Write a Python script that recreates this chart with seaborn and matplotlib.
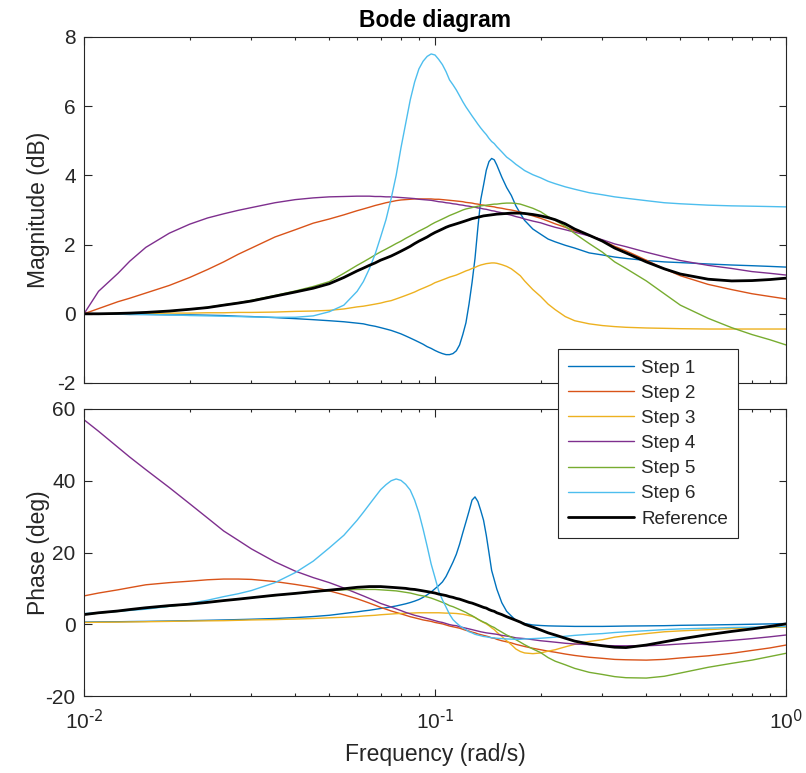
import numpy as np
import pandas as pd
import matplotlib
matplotlib.use("Agg")
import matplotlib.pyplot as plt
from matplotlib.ticker import LogLocator, NullFormatter, MultipleLocator, FuncFormatter
import seaborn as sns

# Frequency grid (rad/s)
freq = [0.01, 0.011, 0.0125, 0.0135, 0.015, 0.0175, 0.02, 0.0225, 0.025, 0.0275,
        0.03, 0.035, 0.04, 0.045, 0.05, 0.055, 0.06, 0.0625, 0.065, 0.0675,
        0.07, 0.0725, 0.075, 0.0775, 0.08, 0.0825, 0.085, 0.0875, 0.09, 0.0925,
        0.095, 0.0975, 0.1, 0.1025, 0.105, 0.1075, 0.11, 0.1125, 0.115, 0.1175,
        0.12, 0.1225, 0.125, 0.1275, 0.13, 0.1325, 0.135, 0.1375, 0.14, 0.1425,
        0.145, 0.1475, 0.15, 0.155, 0.16, 0.165, 0.17, 0.175, 0.18, 0.19,
        0.2, 0.21, 0.22, 0.235, 0.25, 0.275, 0.3, 0.325, 0.35, 0.4,
        0.45, 0.5, 0.6, 0.7, 0.8, 0.9, 1.0]

# Magnitude (dB)
mag_step1 = [0, -0.01, -0.01, -0.02, -0.02, -0.03, -0.03, -0.04, -0.05, -0.07,
             -0.08, -0.11, -0.14, -0.17, -0.2, -0.23, -0.27, -0.29, -0.33, -0.36,
             -0.4, -0.44, -0.48, -0.53, -0.58, -0.64, -0.7, -0.76, -0.82, -0.88,
             -0.95, -1.0, -1.06, -1.11, -1.15, -1.18, -1.18, -1.15, -1.07, -0.9,
             -0.6, -0.26, 0.28, 0.9, 1.6, 2.5, 3.3, 3.72, 4.15, 4.4,
             4.49, 4.45, 4.3, 3.95, 3.65, 3.42, 3.12, 2.9, 2.7, 2.45,
             2.3, 2.16, 2.08, 1.98, 1.9, 1.76, 1.7, 1.64, 1.6, 1.54,
             1.5, 1.48, 1.44, 1.41, 1.39, 1.37, 1.35]
mag_step2 = [0, 0.15, 0.35, 0.45, 0.6, 0.82, 1.05, 1.28, 1.5, 1.72,
             1.9, 2.22, 2.43, 2.62, 2.74, 2.86, 2.98, 3.03, 3.08, 3.13,
             3.17, 3.21, 3.24, 3.27, 3.29, 3.3, 3.31, 3.32, 3.32, 3.32,
             3.32, 3.32, 3.31, 3.31, 3.3, 3.29, 3.28, 3.27, 3.26, 3.25,
             3.24, 3.22, 3.21, 3.2, 3.18, 3.17, 3.15, 3.14, 3.12, 3.11,
             3.1, 3.09, 3.07, 3.05, 3.02, 3.0, 2.97, 2.94, 2.9, 2.83,
             2.76, 2.68, 2.6, 2.5, 2.4, 2.27, 2.12, 1.95, 1.82, 1.55,
             1.3, 1.1, 0.85, 0.7, 0.58, 0.5, 0.43]
mag_step3 = [0, 0, 0, 0.01, 0.01, 0.02, 0.02, 0.03, 0.03, 0.04,
             0.04, 0.05, 0.07, 0.08, 0.1, 0.14, 0.2, 0.22, 0.25, 0.28,
             0.31, 0.35, 0.38, 0.43, 0.48, 0.53, 0.58, 0.63, 0.69, 0.74,
             0.79, 0.84, 0.9, 0.94, 0.98, 1.02, 1.06, 1.09, 1.12, 1.16,
             1.2, 1.24, 1.27, 1.31, 1.34, 1.38, 1.41, 1.43, 1.45, 1.46,
             1.47, 1.47, 1.46, 1.42, 1.37, 1.3, 1.2, 1.1, 0.95, 0.7,
             0.5, 0.28, 0.12, -0.08, -0.2, -0.29, -0.34, -0.37, -0.39, -0.41,
             -0.42, -0.43, -0.44, -0.44, -0.44, -0.44, -0.44]
mag_step4 = [0, 0.65, 1.17, 1.52, 1.92, 2.33, 2.59, 2.77, 2.89, 2.99,
             3.07, 3.21, 3.3, 3.35, 3.38, 3.39, 3.4, 3.4, 3.4, 3.39,
             3.39, 3.38, 3.38, 3.37, 3.36, 3.35, 3.34, 3.33, 3.31, 3.3,
             3.29, 3.28, 3.26, 3.24, 3.23, 3.21, 3.2, 3.18, 3.17, 3.15,
             3.14, 3.12, 3.11, 3.09, 3.08, 3.06, 3.05, 3.03, 3.02, 3.0,
             2.98, 2.97, 2.95, 2.92, 2.88, 2.85, 2.81, 2.78, 2.74, 2.68,
             2.63, 2.56, 2.5, 2.43, 2.36, 2.25, 2.14, 2.02, 1.94, 1.78,
             1.65, 1.54, 1.4, 1.31, 1.22, 1.17, 1.12]
mag_step5 = [0, 0, 0.01, 0.02, 0.04, 0.08, 0.13, 0.19, 0.26, 0.32,
             0.39, 0.53, 0.66, 0.79, 0.93, 1.17, 1.4, 1.5, 1.6, 1.7,
             1.79, 1.87, 1.95, 2.03, 2.1, 2.18, 2.25, 2.32, 2.39, 2.45,
             2.51, 2.58, 2.64, 2.69, 2.74, 2.79, 2.84, 2.88, 2.92, 2.96,
             3.0, 3.03, 3.05, 3.07, 3.09, 3.11, 3.12, 3.13, 3.14, 3.15,
             3.16, 3.17, 3.17, 3.19, 3.2, 3.2, 3.19, 3.17, 3.13, 3.05,
             2.95, 2.81, 2.7, 2.53, 2.32, 2.03, 1.78, 1.5, 1.31, 0.95,
             0.58, 0.25, -0.13, -0.4, -0.6, -0.75, -0.9]
mag_step6 = [0, 0, -0.01, -0.01, -0.02, -0.03, -0.05, -0.06, -0.07, -0.08,
             -0.09, -0.1, -0.1, -0.06, 0.06, 0.25, 0.65, 0.93, 1.3, 1.72,
             2.22, 2.72, 3.33, 4.0, 4.8, 5.5, 6.18, 6.7, 7.08, 7.3,
             7.44, 7.51, 7.48, 7.35, 7.2, 7.0, 6.76, 6.62, 6.47, 6.3,
             6.13, 5.98, 5.85, 5.72, 5.6, 5.48, 5.37, 5.27, 5.18, 5.07,
             4.98, 4.92, 4.83, 4.68, 4.53, 4.43, 4.32, 4.23, 4.14, 4.02,
             3.93, 3.83, 3.76, 3.67, 3.6, 3.5, 3.44, 3.38, 3.34, 3.27,
             3.21, 3.18, 3.14, 3.12, 3.11, 3.1, 3.09]
mag_ref = [0, 0, 0.01, 0.02, 0.04, 0.08, 0.13, 0.18, 0.25, 0.31,
           0.37, 0.51, 0.63, 0.74, 0.87, 1.05, 1.24, 1.32, 1.4, 1.47,
           1.55, 1.61, 1.67, 1.74, 1.81, 1.88, 1.95, 2.03, 2.1, 2.16,
           2.22, 2.29, 2.35, 2.4, 2.45, 2.5, 2.54, 2.57, 2.6, 2.63,
           2.66, 2.69, 2.72, 2.75, 2.77, 2.79, 2.81, 2.83, 2.84, 2.85,
           2.86, 2.87, 2.88, 2.89, 2.9, 2.91, 2.91, 2.91, 2.9, 2.87,
           2.83, 2.78, 2.72, 2.6, 2.45, 2.27, 2.1, 1.9, 1.76, 1.5,
           1.3, 1.15, 1.0, 0.95, 0.96, 0.99, 1.03]

# Phase (deg)
ph_step1 = [0.6, 0.65, 0.7, 0.75, 0.8, 0.9, 1.0, 1.1, 1.2, 1.3,
            1.4, 1.6, 1.85, 2.15, 2.5, 3.0, 3.45, 3.7, 3.9, 4.15,
            4.4, 4.6, 4.85, 5.1, 5.4, 5.7, 6.05, 6.45, 6.9, 7.5,
            8.2, 9.0, 9.9, 10.8, 11.8, 13.3, 15.3, 17.3, 19.5, 22.3,
            25.5, 28.5, 31.5, 34.6, 35.5, 34.2, 31.7, 29.0, 24.8, 19.9,
            15.0, 12.4, 9.8, 6.0, 3.6, 2.3, 1.1, 0.6, 0.2, -0.2,
            -0.35, -0.45, -0.5, -0.55, -0.6, -0.6, -0.6, -0.55, -0.5, -0.45,
            -0.4, -0.3, -0.2, -0.1, 0.0, 0.1, 0.2]
ph_step2 = [7.9, 8.7, 9.6, 10.2, 11.0, 11.6, 12.0, 12.4, 12.6, 12.6,
            12.5, 11.9, 11.1, 10.3, 9.3, 8.2, 7.1, 6.5, 5.9, 5.3,
            4.7, 4.2, 3.7, 3.3, 2.9, 2.5, 2.1, 1.8, 1.5, 1.2,
            1.0, 0.8, 0.5, 0.3, 0.1, -0.2, -0.5, -0.7, -0.9, -1.1,
            -1.4, -1.7, -1.9, -2.2, -2.4, -2.7, -2.9, -3.1, -3.3, -3.5,
            -3.8, -3.9, -4.2, -4.6, -4.9, -5.2, -5.6, -5.9, -6.2, -6.7,
            -7.1, -7.5, -7.8, -8.3, -8.7, -9.2, -9.5, -9.8, -9.9, -10.0,
            -9.8, -9.4, -8.8, -8.1, -7.3, -6.6, -5.8]
ph_step3 = [0.5, 0.55, 0.6, 0.65, 0.7, 0.8, 0.9, 0.95, 1.0, 1.1,
            1.2, 1.3, 1.45, 1.6, 1.8, 1.95, 2.15, 2.3, 2.4, 2.5,
            2.65, 2.75, 2.85, 2.95, 3.0, 3.05, 3.1, 3.15, 3.2, 3.2,
            3.2, 3.2, 3.2, 3.2, 3.15, 3.1, 3.1, 3.05, 3.0, 2.9,
            2.8, 2.6, 2.4, 2.2, 1.9, 1.4, 0.9, 0.5, 0.1, -0.4,
            -1.0, -1.5, -2.2, -3.4, -4.6, -5.7, -6.9, -7.6, -8.0, -8.2,
            -8.0, -7.5, -7.1, -6.3, -5.6, -4.8, -4.3, -3.6, -3.2, -2.6,
            -2.1, -1.85, -1.5, -1.2, -1.0, -0.9, -0.8]
ph_step4 = [57.0, 53.8, 49.3, 46.6, 43.1, 38.1, 33.6, 29.6, 26.0, 23.4,
            21.0, 17.4, 14.8, 13.0, 11.6, 10.1, 8.6, 7.9, 7.2, 6.5,
            5.8, 5.3, 4.8, 4.3, 3.8, 3.3, 2.9, 2.5, 2.2, 1.9,
            1.6, 1.3, 1.0, 0.7, 0.5, 0.2, -0.1, -0.3, -0.4, -0.7,
            -0.9, -1.1, -1.3, -1.5, -1.7, -1.9, -2.1, -2.25, -2.4, -2.5,
            -2.6, -2.7, -2.8, -3.1, -3.3, -3.5, -3.8, -3.9, -4.0, -4.3,
            -4.6, -4.8, -5.0, -5.3, -5.5, -5.7, -5.9, -6.0, -6.0, -6.0,
            -5.8, -5.5, -5.0, -4.5, -4.0, -3.5, -3.0]
ph_step5 = [2.7, 3.1, 3.6, 4.0, 4.4, 5.0, 5.6, 6.1, 6.6, 7.0,
            7.4, 8.0, 8.6, 9.0, 9.4, 9.6, 9.7, 9.7, 9.7, 9.7,
            9.6, 9.5, 9.4, 9.3, 9.1, 8.9, 8.7, 8.4, 8.1, 7.9,
            7.6, 7.3, 6.9, 6.5, 6.1, 5.7, 5.2, 4.9, 4.5, 4.1,
            3.7, 3.3, 2.8, 2.4, 1.9, 1.4, 1.0, 0.6, 0.3, -0.2,
            -0.6, -0.9, -1.4, -2.2, -3.0, -3.6, -4.3, -5.0, -5.7, -6.9,
            -7.9, -9.3, -10.3, -11.3, -12.3, -13.4, -14.0, -14.6, -14.9, -15.0,
            -14.5, -13.6, -12.0, -10.9, -10.0, -9.0, -8.1]
ph_step6 = [3.0, 3.2, 3.6, 3.85, 4.2, 5.0, 5.8, 6.7, 7.7, 8.5,
            9.4, 11.6, 14.4, 17.6, 21.3, 24.8, 29.0, 31.2, 33.4, 35.5,
            37.5, 38.9, 40.0, 40.5, 40.1, 39.0, 37.4, 34.6, 31.0, 26.5,
            21.7, 16.8, 13.0, 9.2, 6.8, 4.8, 2.8, 1.3, 0.4, -0.4,
            -1.0, -1.5, -2.1, -2.4, -2.8, -3.0, -3.2, -3.4, -3.5, -3.65,
            -3.75, -3.8, -3.9, -4.0, -4.1, -4.15, -4.2, -4.2, -4.1, -4.0,
            -3.9, -3.75, -3.6, -3.35, -3.1, -2.8, -2.6, -2.3, -2.1, -1.8,
            -1.5, -1.3, -1.1, -0.9, -0.8, -0.7, -0.6]
ph_ref = [2.7, 3.2, 3.7, 4.1, 4.6, 5.2, 5.6, 6.1, 6.6, 7.0,
          7.4, 8.1, 8.6, 9.1, 9.5, 9.9, 10.3, 10.4, 10.5, 10.5,
          10.5, 10.4, 10.3, 10.2, 10.1, 10.0, 9.8, 9.7, 9.5, 9.3,
          9.1, 8.9, 8.7, 8.4, 8.2, 8.0, 7.7, 7.5, 7.2, 7.0,
          6.7, 6.4, 6.1, 5.9, 5.6, 5.3, 5.0, 4.7, 4.5, 4.1,
          3.8, 3.6, 3.2, 2.7, 2.1, 1.6, 1.1, 0.6, 0.0, -0.8,
          -1.6, -2.4, -3.0, -3.9, -4.7, -5.5, -6.0, -6.4, -6.5, -5.8,
          -4.9, -4.1, -2.9, -2.0, -1.3, -0.6, 0.1]

labels = ["Step 1", "Step 2", "Step 3", "Step 4", "Step 5", "Step 6", "Reference"]
colors = ["#0072BD", "#D95319", "#EDB120", "#7E2F8E", "#77AC30", "#4DBEEE", "#000000"]
widths = [1.0, 1.0, 1.0, 1.0, 1.0, 1.0, 2.0]
mags = [mag_step1, mag_step2, mag_step3, mag_step4, mag_step5, mag_step6, mag_ref]
phases = [ph_step1, ph_step2, ph_step3, ph_step4, ph_step5, ph_step6, ph_ref]

sns.set_style("ticks")
plt.rcParams["font.family"] = ["Liberation Sans", "DejaVu Sans"]
plt.rcParams["mathtext.default"] = "regular"
plt.rcParams["axes.unicode_minus"] = False

INK = "#262626"


def decade_label(value, pos):
    exp = int(round(np.log10(value)))
    return r"$\mathdefault{10^{\text{%d}}}$" % exp


fig = plt.figure(figsize=(8.06, 7.73), dpi=100)
ax1 = fig.add_axes([84 / 806, 1 - 383 / 773, 702 / 806, 346 / 773])
ax2 = fig.add_axes([84 / 806, 1 - 696 / 773, 702 / 806, 287 / 773])

for name, color, lw, m, p in zip(labels, colors, widths, mags, phases):
    df = pd.DataFrame({"freq": freq, "mag": m, "phase": p})
    sns.lineplot(data=df, x="freq", y="mag", ax=ax1, color=color, lw=lw,
                 label=name, legend=False, sort=False)
    sns.lineplot(data=df, x="freq", y="phase", ax=ax2, color=color, lw=lw,
                 label=name, legend=False, sort=False)

for ax in (ax1, ax2):
    if ax.get_legend() is not None:
        ax.get_legend().remove()
    ax.set_xscale("log")
    ax.set_xlim(0.01, 1)
    ax.xaxis.set_major_locator(LogLocator(base=10, numticks=10))
    ax.xaxis.set_major_formatter(FuncFormatter(decade_label))
    ax.xaxis.set_minor_locator(LogLocator(base=10, subs=np.arange(2, 10), numticks=10))
    ax.xaxis.set_minor_formatter(NullFormatter())
    ax.tick_params(which="both", direction="in", top=True, right=True,
                   color=INK, labelcolor=INK, labelsize=15, width=0.8)
    ax.tick_params(which="major", length=5.4, pad=6)
    ax.tick_params(which="minor", length=2.5)
    for s in ax.spines.values():
        s.set_visible(True)
        s.set_color(INK)
        s.set_linewidth(0.8)
    ax.set_xlabel("")
    ax.set_ylabel("")

ax1.set_ylim(-2, 8)
ax1.yaxis.set_major_locator(MultipleLocator(2))
ax1.tick_params(labelbottom=False)
ax2.set_ylim(-20, 60)
ax2.yaxis.set_major_locator(MultipleLocator(20))
ax2.tick_params(axis="x", which="major", pad=9)

ax1.set_ylabel("Magnitude (dB)", fontsize=16.5, color=INK)
ax2.set_ylabel("Phase (deg)", fontsize=16.5, color=INK)
ax1.yaxis.set_label_coords(-0.048, 0.5)
ax2.yaxis.set_label_coords(-0.048, 0.5)
ax2.set_xlabel("Frequency (rad/s)", fontsize=16.5, color=INK)
ax2.xaxis.set_label_coords(0.5, -0.163)
ax1.set_title("Bode diagram", fontsize=16.5, fontweight="bold", color="black", pad=7)

handles = ax2.get_lines()[:len(labels)]
leg = fig.legend(handles, labels, loc="upper left",
                 bbox_to_anchor=(558 / 806, 1 - 349 / 773),
                 bbox_transform=fig.transFigure, borderaxespad=0,
                 fontsize=13.6, handlelength=3.45, handletextpad=0.4,
                 borderpad=0.55, labelspacing=0.42, frameon=True,
                 fancybox=False, framealpha=1, edgecolor=INK)
leg.get_frame().set_linewidth(0.8)
leg.set_zorder(10)

fig.savefig("out.png", dpi=100, facecolor="white")
